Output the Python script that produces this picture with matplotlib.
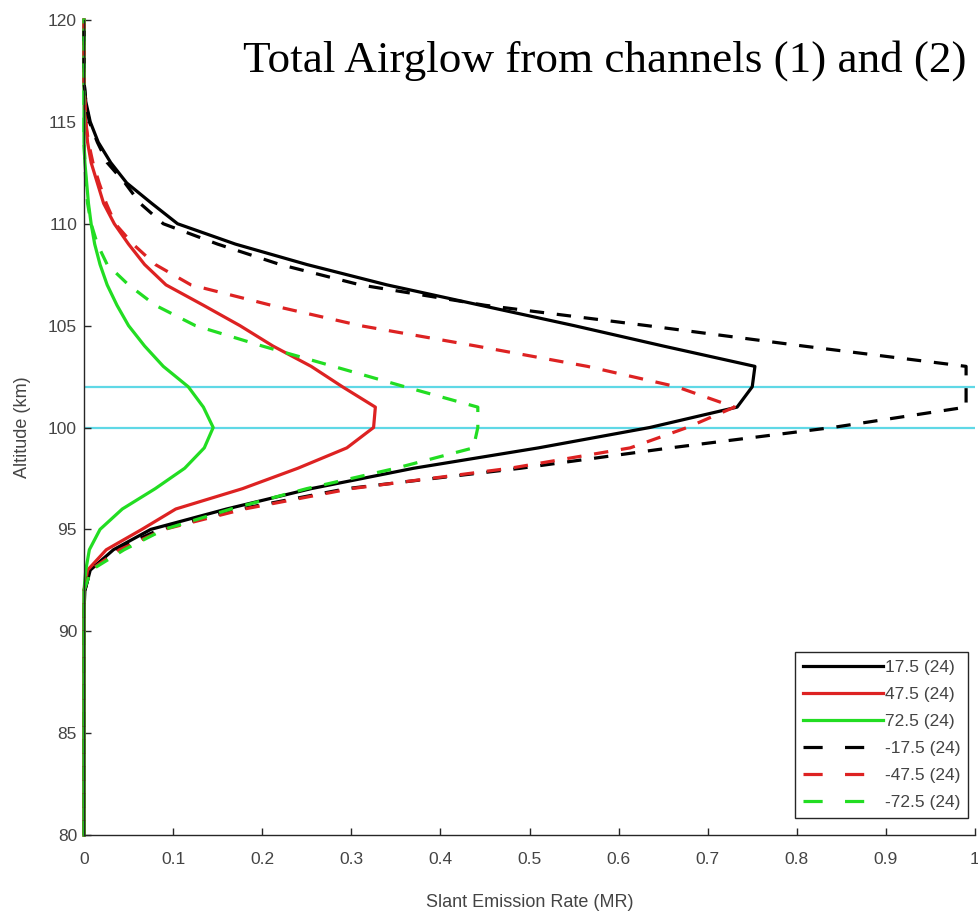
import numpy as np
import matplotlib
matplotlib.use("Agg")
import matplotlib.pyplot as plt

# altitude grid (km), 1 km steps
altitude = np.arange(80, 121)

# slant emission rate (MR) for altitudes 90..120 km, zero below 90 km
ser_17 = [0, 0, 0.001, 0.007, 0.033, 0.075, 0.16, 0.255, 0.37, 0.51, 0.635,
          0.733, 0.75, 0.753, 0.65, 0.55, 0.445, 0.34, 0.25, 0.17, 0.105,
          0.076, 0.048, 0.03, 0.016, 0.007, 0.002, 0, 0, 0, 0]
ser_47 = [0, 0, 0, 0.004, 0.025, 0.065, 0.103, 0.178, 0.24, 0.295, 0.325,
          0.327, 0.29, 0.255, 0.212, 0.175, 0.134, 0.092, 0.068, 0.05, 0.034,
          0.022, 0.015, 0.008, 0.004, 0.002, 0.001, 0, 0, 0, 0]
ser_72 = [0, 0, 0, 0.002, 0.006, 0.018, 0.043, 0.08, 0.113, 0.135, 0.145,
          0.134, 0.117, 0.089, 0.068, 0.05, 0.037, 0.026, 0.018, 0.012, 0.008,
          0.005, 0.003, 0.001, 0, 0, 0, 0, 0, 0, 0]
ser_m17 = [0, 0, 0.001, 0.007, 0.035, 0.085, 0.175, 0.295, 0.49, 0.658, 0.84,
           0.99, 0.99, 0.99, 0.807, 0.632, 0.45, 0.31, 0.22, 0.15, 0.089,
           0.063, 0.046, 0.026, 0.015, 0.006, 0.002, 0, 0, 0, 0]
ser_m47 = [0, 0, 0, 0.007, 0.04, 0.09, 0.18, 0.30, 0.478, 0.613, 0.677,
           0.73, 0.665, 0.565, 0.44, 0.31, 0.21, 0.12, 0.08, 0.055, 0.035,
           0.025, 0.017, 0.01, 0.005, 0.002, 0.001, 0, 0, 0, 0]
ser_m72 = [0, 0, 0, 0.008, 0.045, 0.09, 0.165, 0.25, 0.35, 0.437, 0.442,
           0.442, 0.36, 0.28, 0.2, 0.125, 0.08, 0.05, 0.026, 0.015, 0.008,
           0.004, 0.002, 0.001, 0, 0, 0, 0, 0, 0, 0]

labels = ["17.5 (24)", "47.5 (24)", "72.5 (24)",
          "-17.5 (24)", "-47.5 (24)", "-72.5 (24)"]
series = [ser_17, ser_47, ser_72, ser_m17, ser_m47, ser_m72]
colors = ["#000000", "#dd2222", "#22dd22", "#000000", "#dd2222", "#22dd22"]
dashed = [False, False, False, True, True, True]

# reference altitudes marked with horizontal lines
ref_alts = [100, 102]

plt.rcParams['font.family'] = ['Liberation Sans', 'DejaVu Sans']

fig = plt.figure(figsize=(9.79, 9.17), dpi=100)
ax = fig.add_axes([84/979, 1 - 835/917, 891/979, 815/917])

for vals, col, lab, dsh in zip(series, colors, labels, dashed):
    full = np.concatenate([np.zeros(10), vals])
    if dsh:
        ax.plot(full, altitude, color=col, lw=2.3, dashes=(4.5, 4), label=lab, clip_on=False)
    else:
        ax.plot(full, altitude, color=col, lw=2.3, label=lab, clip_on=False)

for a in ref_alts:
    ax.axhline(a, color="#5fd8e6", lw=1.6, zorder=0)

ax.set_xlim(0, 1)
ax.set_ylim(80, 120)
ax.set_xticks(np.arange(0, 1.01, 0.1))
ax.set_xticklabels(["0", "0.1", "0.2", "0.3", "0.4", "0.5", "0.6", "0.7", "0.8", "0.9", "1"])
ax.set_yticks(np.arange(80, 121, 5))

for s in ["top", "right"]:
    ax.spines[s].set_visible(False)
for s in ["left", "bottom"]:
    ax.spines[s].set_color("#262626")
    ax.spines[s].set_linewidth(1.0)

ax.tick_params(direction="in", length=5, width=1, colors="#262626",
               labelcolor="#444444", labelsize=12.5)
ax.tick_params(axis="x", pad=12)
ax.tick_params(axis="y", pad=5)

ax.set_xlabel("Slant Emission Rate (MR)", fontsize=13, color="#444444", labelpad=20)
ax.set_ylabel("Altitude (km)", fontsize=13, color="#444444", labelpad=12)

leg = ax.legend(loc="lower right", bbox_to_anchor=(968/979, 1 - 818/917),
                bbox_transform=fig.transFigure, fontsize=12.5, frameon=True,
                fancybox=False, framealpha=1, edgecolor="#262626",
                handlelength=4.6, handletextpad=0.1, labelspacing=0.68,
                borderpad=0.45, borderaxespad=0)
leg.get_frame().set_linewidth(1.0)
for t in leg.get_texts():
    t.set_color("#444444")
# longer gaps on the dashed legend samples
for h, dsh in zip(leg.get_lines(), dashed):
    if dsh:
        h.set_dashes((6, 7))

fig.text(243/979, 1 - 72/917, "Total Airglow from channels (1) and (2)",
         family="Liberation Serif", fontsize=32.5, va="baseline", ha="left")

fig.savefig("out.png", dpi=100)
